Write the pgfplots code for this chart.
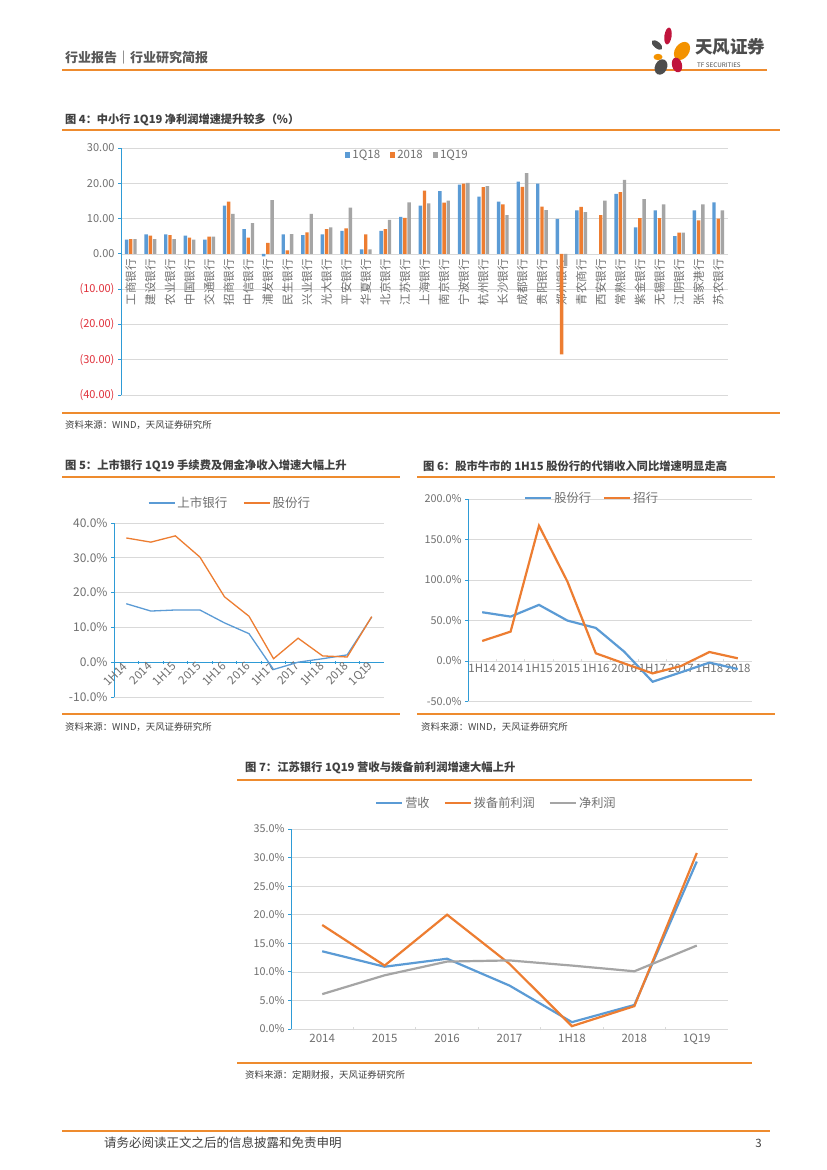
\documentclass[border=0pt]{standalone}
\usepackage{fontspec}
\setmainfont{Noto Sans CJK SC}
\usepackage{pgfplots}
\pgfplotsset{compat=1.18}
\definecolor{cblue}{HTML}{5B9BD5}
\definecolor{corange}{HTML}{ED7D31}
\definecolor{cgray}{HTML}{A5A5A5}
\definecolor{axblue}{HTML}{2E9BD6}
\definecolor{gridc}{HTML}{D9D9D9}
\definecolor{tickc}{HTML}{707070}
\definecolor{negred}{HTML}{E0303A}
\definecolor{tforange}{HTML}{EE8B2E}
\definecolor{titlec}{HTML}{404040}
\definecolor{headc}{HTML}{595959}
\definecolor{logored}{HTML}{C0143C}
\definecolor{logoorange}{HTML}{F39200}
\definecolor{logodark}{HTML}{4D4D4D}
\newcommand{\fs}[1]{\fontsize{#1}{#1}\selectfont}
\pgfplotsset{
  myax/.style={scale only axis, anchor=south west,
    ymajorgrids, grid style={gridc, line width=0.7pt},
    axis y line=left, y axis line style={axblue, line width=1pt, -},
    ytick style={axblue, line width=0.8pt}, tick align=outside,
    major tick length=3pt, minor tick length=3pt,
    yticklabel style={text=tickc, font=\fs{11}},
    xticklabel style={text=tickc},
    /pgf/number format/assume math mode=true,
    legend cell align=left,
  },
  lnleg/.style={legend image code/.code={\draw[##1] (0pt,0pt) -- (26pt,0pt);}},
  sqleg/.style={legend image code/.code={\fill[##1] (0pt,-2.6pt) rectangle (5.2pt,2.6pt);}},
}
\begin{document}
\begin{tikzpicture}
\path[use as bounding box, fill=white] (0,0) rectangle (827pt,1170pt);

% ---------- header ----------
\node[anchor=west, text=headc, font=\fs{13}\bfseries, inner sep=0pt] at (65pt,1112pt) {行业报告｜行业研究简报};
\draw[tforange, line width=2pt] (62pt,1100pt) -- (767pt,1100pt);
% logo
\fill[logored, rotate around={-8:(668pt,1134pt)}] (668pt,1134pt) ellipse (3.6pt and 8.5pt);
\fill[logodark, rotate around={50:(657pt,1125pt)}] (657pt,1125pt) ellipse (3.2pt and 6.5pt);
\fill[logoorange, rotate around={-35:(682pt,1119pt)}] (682pt,1119pt) ellipse (7pt and 10pt);
\fill[logoorange] (658pt,1113pt) ellipse (4.5pt and 3.2pt);
\fill[logored, rotate around={15:(677pt,1105pt)}] (677pt,1105pt) ellipse (5pt and 7.5pt);
\fill[logodark, rotate around={-25:(661pt,1103pt)}] (661pt,1103pt) ellipse (6pt and 8pt);
\node[anchor=west, text=logodark, font=\fs{17.5}\bfseries, inner sep=0pt] at (695pt,1123pt) {天风证券};
\node[anchor=west, text=logodark, font=\fs{6.3}, inner sep=0pt] at (697pt,1105pt) {TF SECURITIES};

% ---------- figure 4 ----------
\node[anchor=west, text=titlec, font=\fs{11.2}\bfseries, inner sep=0pt] at (65pt,1050pt) {图 4：中小行 1Q19 净利润增速提升较多（\%）};
\draw[tforange, line width=1.3pt] (62pt,1040pt) -- (780pt,1040pt);
\draw[tforange, line width=1.3pt] (62pt,757pt) -- (780pt,757pt);
\node[anchor=west, text=titlec, font=\fs{9.4}, inner sep=0pt] at (65pt,745pt) {资料来源：WIND，天风证券研究所};

\begin{axis}[myax, at={(121pt,775pt)}, width=607pt, height=247pt,
  xmin=-0.5, xmax=30.5, ymin=-40, ymax=30,
  ytick={-40,-30,-20,-10,0,10,20,30},
  yticklabels={{\textcolor{negred}{(40.00)}},{\textcolor{negred}{(30.00)}},{\textcolor{negred}{(20.00)}},{\textcolor{negred}{(10.00)}},0.00,10.00,20.00,30.00},
  axis x line=middle, x axis line style={gridc, line width=0.7pt, -},
  xtick={0,...,30}, xtick style={draw=none},
  xticklabels={工商银行,建设银行,农业银行,中国银行,交通银行,招商银行,中信银行,浦发银行,民生银行,兴业银行,光大银行,平安银行,华夏银行,北京银行,江苏银行,上海银行,南京银行,宁波银行,杭州银行,长沙银行,成都银行,贵阳银行,郑州银行,青农商行,西安银行,常熟银行,紫金银行,无锡银行,江阴银行,张家港行,苏农银行},
  xticklabel style={rotate=90, anchor=east, font=\fs{11.5}, inner sep=2pt},
  ybar=0.8pt, bar width=3.4pt,
  legend style={at={(0.472,0.972)}, anchor=center, draw=none, fill=none, legend columns=3, font=\fs{11.5}, text=tickc, /tikz/every even column/.append style={column sep=8pt}},
]
\addplot[fill=cblue, draw=none, sqleg] coordinates {(0,4.0) (1,5.5) (2,5.5) (3,5.2) (4,4.0) (5,13.7) (6,7.0) (7,-0.7) (8,5.5) (9,5.3) (10,5.5) (11,6.5) (12,1.3) (13,6.5) (14,10.5) (15,13.7) (16,17.8) (17,19.6) (18,16.2) (19,14.8) (20,20.5) (21,19.9) (22,9.9) (23,12.3) (25,17.0) (26,7.5) (27,12.3) (28,5.0) (29,12.3) (30,14.6)};
\addplot[fill=corange, draw=none, sqleg] coordinates {(0,4.2) (1,5.2) (2,5.3) (3,4.6) (4,4.9) (5,14.8) (6,4.6) (7,3.1) (8,1.0) (9,6.1) (10,7.0) (11,7.2) (12,5.5) (13,7.0) (14,10.2) (15,17.9) (16,14.5) (17,19.9) (18,18.9) (19,14.0) (20,19.0) (21,13.4) (22,-28.5) (23,13.3) (24,11.0) (25,17.5) (26,10.1) (27,10.1) (28,6.0) (29,9.5) (30,10.0)};
\addplot[fill=cgray, draw=none, sqleg] coordinates {(0,4.2) (1,4.2) (2,4.2) (3,4.0) (4,4.9) (5,11.3) (6,8.7) (7,15.2) (8,5.6) (9,11.3) (10,7.5) (11,13.1) (12,1.3) (13,9.6) (14,14.6) (15,14.3) (16,15.1) (17,20.1) (18,19.2) (19,11.0) (20,22.9) (21,12.4) (22,-3.5) (23,11.8) (24,15.1) (25,21.0) (26,15.5) (27,14.0) (28,6.0) (29,14.0) (30,12.3)};
\legend{1Q18,2018,1Q19}
\end{axis}

% ---------- figure 5 ----------
\node[anchor=west, text=titlec, font=\fs{11.3}\bfseries, inner sep=0pt] at (65pt,704pt) {图 5：上市银行 1Q19 手续费及佣金净收入增速大幅上升};
\draw[tforange, line width=1.3pt] (62pt,693pt) -- (400pt,693pt);
\draw[tforange, line width=1.3pt] (62pt,456pt) -- (400pt,456pt);
\node[anchor=west, text=titlec, font=\fs{9.4}, inner sep=0pt] at (65pt,443pt) {资料来源：WIND，天风证券研究所};

\begin{axis}[myax, at={(114pt,473pt)}, width=270pt, height=174pt,
  xmin=-0.5, xmax=10.5, ymin=-10, ymax=40,
  ytick={-10,0,10,20,30,40},
  yticklabels={-10.0\%,0.0\%,10.0\%,20.0\%,30.0\%,40.0\%},
  yticklabel style={font=\fs{12}},
  axis x line=middle, x axis line style={axblue, line width=1pt, -},
  xtick={0,...,10}, major x tick style={draw=none},
  minor x tick num=1, minor x tick style={axblue, line width=0.8pt},
  xticklabels={1H14,2014,1H15,2015,1H16,2016,1H17,2017,1H18,2018,1Q19},
  xticklabel style={rotate=45, anchor=east, font=\fs{11.5}, inner sep=1pt},
  lnleg,
  legend style={at={(0.43,1.115)}, anchor=center, draw=none, fill=none, legend columns=2, font=\fs{12.5}, text=tickc, /tikz/every even column/.append style={column sep=14pt}},
]
\addplot[cblue, line width=1.3pt] coordinates {(0,16.8) (1,14.7) (2,15.0) (3,15.0) (4,11.3) (5,8.2) (6,-2.1) (7,0.0) (8,1.0) (9,2.1) (10,13.0)};
\addplot[corange, line width=1.3pt] coordinates {(0,35.7) (1,34.5) (2,36.3) (3,30.2) (4,18.8) (5,13.2) (6,1.0) (7,6.9) (8,1.8) (9,1.5) (10,13.1)};
\legend{上市银行,股份行}
\end{axis}

% ---------- figure 6 ----------
\node[anchor=west, text=titlec, font=\fs{11.3}\bfseries, inner sep=0pt] at (423pt,704pt) {图 6：股市牛市的 1H15 股份行的代销收入同比增速明显走高};
\draw[tforange, line width=1.3pt] (417pt,693pt) -- (775pt,693pt);
\draw[tforange, line width=1.3pt] (417pt,456pt) -- (775pt,456pt);
\node[anchor=west, text=titlec, font=\fs{9.4}, inner sep=0pt] at (421pt,443pt) {资料来源：WIND，天风证券研究所};

\begin{axis}[myax, at={(468pt,468.5pt)}, width=284pt, height=202.5pt,
  xmin=-0.5, xmax=9.5, ymin=-50, ymax=200,
  ytick={-50,0,50,100,150,200},
  yticklabels={-50.0\%,0.0\%,50.0\%,100.0\%,150.0\%,200.0\%},
  yticklabel style={font=\fs{10.8}},
  axis x line=middle, x axis line style={gridc, line width=0.8pt, -},
  xtick={0,...,9}, major x tick style={draw=none},
  minor x tick num=1, minor x tick style={gridc, line width=0.8pt},
  xticklabels={1H14,2014,1H15,2015,1H16,2016,1H17,2017,1H18,2018},
  xticklabel style={anchor=north, font=\fs{11.5}, inner sep=1.5pt},
  lnleg,
  legend style={at={(0.437,1.005)}, anchor=center, draw=none, fill=none, legend columns=2, font=\fs{12.3}, text=tickc, /tikz/every even column/.append style={column sep=10pt}},
]
\addplot[cblue, line width=2.2pt] coordinates {(0,60.2) (1,54.8) (2,69.3) (3,49.9) (4,40.8) (5,11.5) (6,-25.6) (7,-14.0) (8,-2.0) (9,-9.9)};
\addplot[corange, line width=2.2pt] coordinates {(0,24.7) (1,36.3) (2,167.0) (3,98.1) (4,9.5) (5,-3.0) (6,-15.3) (7,-6.2) (8,11.1) (9,3.3)};
\legend{股份行,招行}
\end{axis}

% ---------- figure 7 ----------
\node[anchor=west, text=titlec, font=\fs{11.3}\bfseries, inner sep=0pt] at (245pt,402pt) {图 7：江苏银行 1Q19 营收与拨备前利润增速大幅上升};
\draw[tforange, line width=1.3pt] (237pt,390pt) -- (752pt,390pt);
\draw[tforange, line width=1.3pt] (237pt,107pt) -- (752pt,107pt);
\node[anchor=west, text=titlec, font=\fs{9.4}, inner sep=0pt] at (245pt,95pt) {资料来源：定期财报，天风证券研究所};

\begin{axis}[myax, at={(291pt,141pt)}, width=437pt, height=200pt,
  xmin=-0.5, xmax=6.5, ymin=0, ymax=35,
  ytick={0,5,...,35},
  yticklabels={0.0\%,5.0\%,10.0\%,15.0\%,20.0\%,25.0\%,30.0\%,35.0\%},
  yticklabel style={font=\fs{10.8}},
  axis x line=bottom, x axis line style={gridc, line width=0.8pt, -},
  xtick={0,...,6}, major x tick style={draw=none},
  minor x tick num=1, minor x tick style={gridc, line width=0.8pt},
  xticklabels={2014,2015,2016,2017,1H18,2018,1Q19},
  xticklabel style={anchor=north, font=\fs{11.5}, inner sep=3pt},
  lnleg,
  legend style={at={(0.47,1.13)}, anchor=center, draw=none, fill=none, legend columns=3, font=\fs{12.2}, text=tickc, /tikz/every even column/.append style={column sep=12pt}},
]
\addplot[cblue, line width=2.2pt] coordinates {(0,13.6) (1,10.9) (2,12.3) (3,7.6) (4,1.2) (5,4.2) (6,29.3)};
\addplot[corange, line width=2.2pt] coordinates {(0,18.2) (1,11.1) (2,20.0) (3,11.4) (4,0.5) (5,4.0) (6,30.8)};
\addplot[cgray, line width=2.2pt] coordinates {(0,6.1) (1,9.4) (2,11.8) (3,12.0) (4,11.1) (5,10.1) (6,14.6)};
\legend{营收,拨备前利润,净利润}
\end{axis}

% ---------- footer ----------
\draw[tforange, line width=1.6pt] (62pt,39pt) -- (770pt,39pt);
\node[anchor=west, text=titlec, font=\fs{12.5}, inner sep=0pt] at (104pt,27pt) {请务必阅读正文之后的信息披露和免责申明};
\node[anchor=east, text=titlec, font=\fs{11.5}, inner sep=0pt] at (762pt,27pt) {3};
\end{tikzpicture}
\end{document}
